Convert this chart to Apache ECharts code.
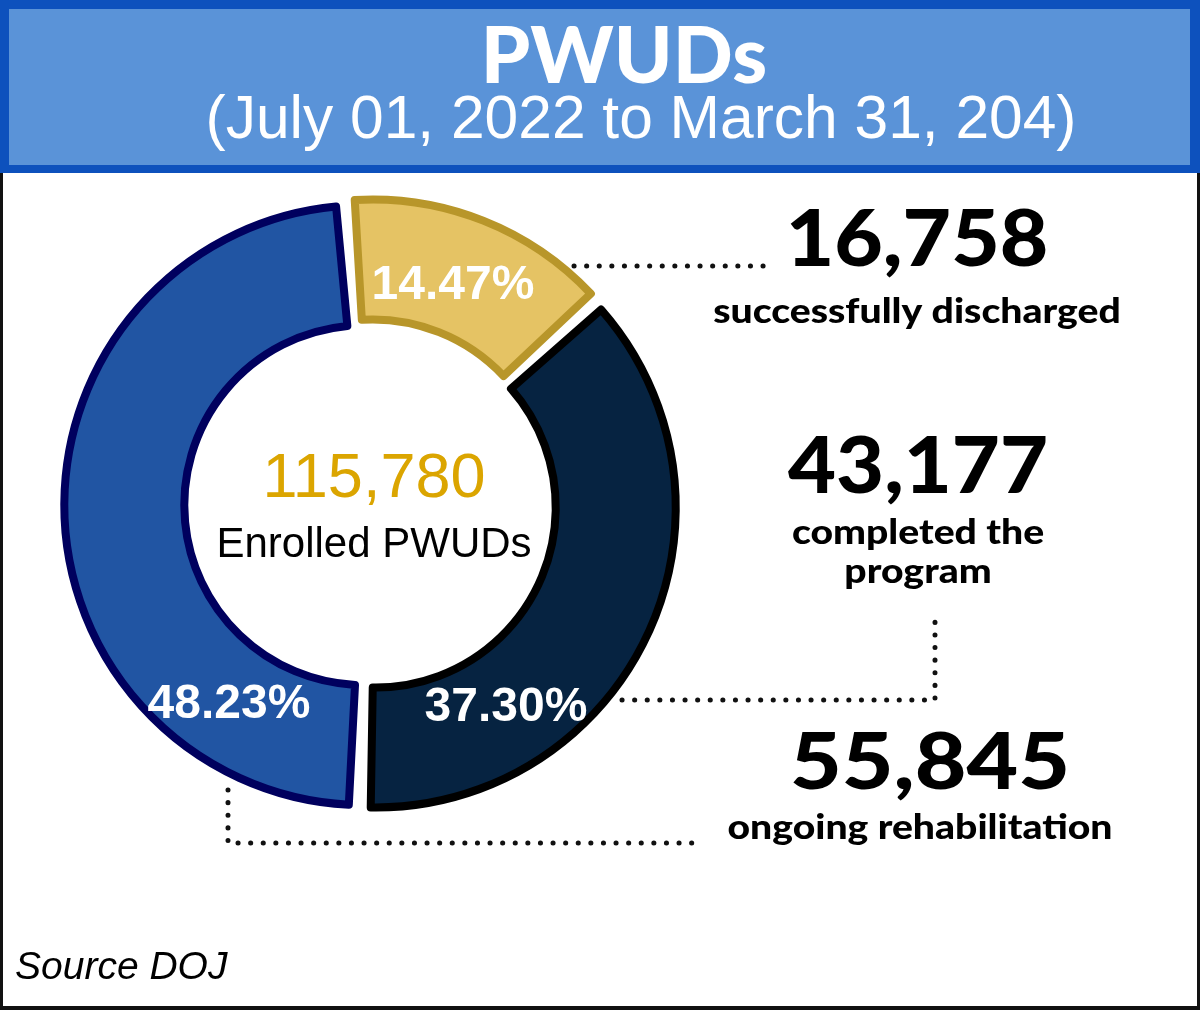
<!DOCTYPE html>
<html><head><meta charset="utf-8">
<script src="https://cdn.jsdelivr.net/npm/echarts@6/dist/echarts.min.js"></script>
<style>html,body{margin:0;padding:0;background:#fff}#c{width:1200px;height:1010px}</style>
</head><body><div id="c"></div>
<script>
// ---- data ----
const categories = ['successfully discharged', 'completed the\nprogram', 'ongoing rehabilitation'];
const values = [16758, 43177, 55845];
const percentLabels = ['14.47%', '37.30%', '48.23%'];
const totalEnrolled = 115780;
const centerLabel = 'Enrolled PWUDs';
const titleText = 'PWUDs';
const subtitleText = '(July 01, 2022 to March 31, 204)';
const sourceText = 'Source DOJ';

// ---- styles ----
const fills = ['#e5c364', '#062341', '#2155a3'];
const borders = ['#b8962a', '#000000', '#00005e'];
const fmt = v => v.toLocaleString('en-US');

const chart = echarts.init(document.getElementById('c'), null, {renderer: 'canvas'});

const pieData = values.map((v, i) => ({
  name: categories[i], value: v, selected: true,
  itemStyle: {color: fills[i], borderColor: borders[i], borderWidth: 8},
  select: {itemStyle: {color: fills[i], borderColor: borders[i], borderWidth: 8}}
}));

function txt(x, y, text, font, fill, align, z, sx) {
  return {type: 'text', x: x, y: y, z: z || 50, silent: true, scaleX: sx || 1,
    style: {text: text, font: font, fill: fill, align: align || 'center', verticalAlign: 'middle',
            textAlign: align || 'center', textVerticalAlign: 'middle'}};
}
function dots(points) {
  return {type: 'polyline', z: 40, silent: true, shape: {points: points},
    style: {stroke: '#111', lineWidth: 5, lineDash: [0.1, 12.5], lineCap: 'round', fill: null}};
}

const bigFont = '900 79px Lato, "DejaVu Sans", sans-serif';
const subFont = '900 34px Lato, "DejaVu Sans", sans-serif';
const pctFont = 'bold 48px "Liberation Sans", Arial, sans-serif';

const graphics = [
  // header
  {type: 'rect', z: 1, silent: true, shape: {x: 0, y: 0, width: 1200, height: 173}, style: {fill: '#0d51bd'}},
  {type: 'rect', z: 2, silent: true, shape: {x: 9, y: 9, width: 1181, height: 156}, style: {fill: '#5a93d8'}},
  // body frame
  {type: 'rect', z: 1, silent: true, shape: {x: 0, y: 173, width: 3, height: 837}, style: {fill: '#111'}},
  {type: 'rect', z: 1, silent: true, shape: {x: 1197, y: 173, width: 3, height: 837}, style: {fill: '#111'}},
  {type: 'rect', z: 1, silent: true, shape: {x: 0, y: 1006, width: 1200, height: 4}, style: {fill: '#111'}},
  txt(624, 58, titleText, '900 79px Lato, "DejaVu Sans", sans-serif', '#ffffff'),
  txt(641, 121, subtitleText, '60.5px "Liberation Sans", Arial, sans-serif', '#ffffff'),
  // center
  txt(374, 480, fmt(totalEnrolled), '63px "Liberation Sans", Arial, sans-serif', '#dba500'),
  txt(374, 545, centerLabel, '42px "Liberation Sans", Arial, sans-serif', '#000000'),
  // percent labels
  txt(453, 286, percentLabels[0], pctFont, '#ffffff', 'center', 60),
  txt(506, 708, percentLabels[1], pctFont, '#ffffff', 'center', 60),
  txt(229, 705, percentLabels[2], pctFont, '#ffffff', 'center', 60),
  // right side
  txt(917, 241, fmt(values[0]), bigFont, '#000', 'center', 50, 1.06),
  txt(917, 312, categories[0], subFont, '#000', 'center', 50, 1.15),
  txt(918, 468, fmt(values[1]), bigFont, '#000', 'center', 50, 1.05),
  txt(918, 533, categories[1].split('\n')[0], subFont, '#000', 'center', 50, 1.15),
  txt(918, 572, categories[1].split('\n')[1], subFont, '#000', 'center', 50, 1.15),
  txt(930, 764, fmt(values[2]), bigFont, '#000', 'center', 50, 1.13),
  txt(920, 828, categories[2], subFont, '#000', 'center', 50, 1.15),
  // connectors
  dots([[574, 266], [775, 266]]),
  dots([[622, 700], [935, 700], [935, 613]]),
  dots([[228, 790], [228, 843], [697, 843]]),
  // source
  txt(15, 968, sourceText, 'italic 39px "Liberation Sans", Arial, sans-serif', '#000', 'left')
];

chart.setOption({
  animation: false,
  backgroundColor: '#ffffff',
  graphic: {elements: graphics},
  series: [{
    type: 'pie',
    z: 10,
    center: [370.3, 505],
    radius: [180, 300],
    startAngle: 94.4,
    clockwise: true,
    padAngle: 2,
    selectedMode: 'multiple',
    selectedOffset: 6,
    label: {show: false},
    labelLine: {show: false},
    emphasis: {disabled: true, scale: false},
    data: pieData
  }]
});
</script>
</body></html>
